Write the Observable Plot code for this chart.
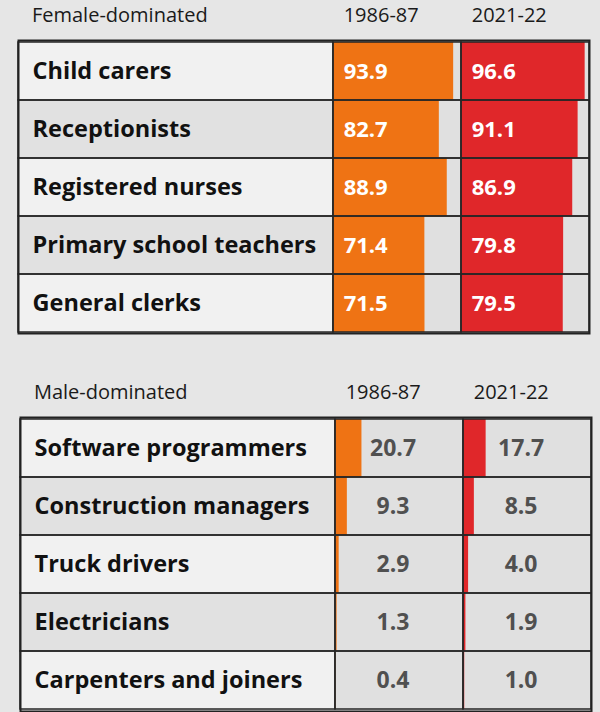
<!DOCTYPE html>
<html>
<head>
<meta charset="utf-8">
<script src="https://cdn.jsdelivr.net/npm/d3@7"></script>
<script src="https://cdn.jsdelivr.net/npm/@observablehq/plot@0.6"></script>
<style>
  html, body { margin: 0; padding: 0; background: #e6e6e6; }
  #chart { width: 600px; height: 712px; overflow: hidden; }
  #chart svg { display: block; }
</style>
</head>
<body>
<div id="chart"></div>
<script>
// ---- data ----
const years = ["1986-87", "2021-22"];
const femaleTitle = "Female-dominated";
const femaleJobs = ["Child carers", "Receptionists", "Registered nurses", "Primary school teachers", "General clerks"];
const female1986 = [93.9, 82.7, 88.9, 71.4, 71.5];
const female2021 = [96.6, 91.1, 86.9, 79.8, 79.5];
const maleTitle = "Male-dominated";
const maleJobs = ["Software programmers", "Construction managers", "Truck drivers", "Electricians", "Carpenters and joiners"];
const male1986 = [20.7, 9.3, 2.9, 1.3, 0.4];
const male2021 = [17.7, 8.5, 4.0, 1.9, 1.0];

// ---- layout (in x-scale units; each value column spans 0–100 %) ----
const LABEL_W = 246, COL_W = 100;
const FONT = "'Open Sans', 'DejaVu Sans', sans-serif";
const barColors = ["#ef7314", "#e0272a"];

function table(title, jobs, v1, v2, opts) {
  const labels = jobs.map((job, i) => ({job, i, x1: 0, x2: LABEL_W}));
  const cells = [];
  [v1, v2].forEach((vals, c) => {
    vals.forEach((v, i) => {
      const start = LABEL_W + c * COL_W;
      cells.push({job: jobs[i], col: c, value: v, start, end: start + COL_W, fill: barColors[c]});
    });
  });
  const headers = [{x: 10.5, text: title}].concat(years.map((y, c) => ({x: LABEL_W + c * COL_W + 8, text: y})));
  return Plot.plot({
    width: 600,
    height: opts.height,
    marginLeft: opts.left,
    marginRight: opts.right,
    marginTop: opts.marginTop,
    marginBottom: opts.marginBottom,
    x: {domain: [0, LABEL_W + 2 * COL_W], axis: null},
    y: {domain: jobs, axis: null, padding: 0},
    color: {type: "identity"},
    style: {background: "transparent", fontFamily: FONT, overflow: "visible"},
    marks: [
      Plot.barX(labels, {x1: "x1", x2: "x2", y: "job", fill: d => d.i % 2 ? "#e1e1e1" : "#f1f1f1"}),
      Plot.barX(cells, {x1: "start", x2: "end", y: "job", fill: "#e0e0e0"}),
      Plot.barX(cells, {x1: "start", x2: d => d.start + d.value, y: "job", fill: "fill"}),
      Plot.barX(labels, {x1: "x1", x2: "x2", y: "job", fill: "none", stroke: "#262626", strokeWidth: 1.5}),
      Plot.barX(cells, {x1: "start", x2: "end", y: "job", fill: "none", stroke: "#262626", strokeWidth: 1.5}),
      Plot.frame({stroke: "#222", strokeWidth: 2}),
      Plot.text(labels, {x: 11, y: "job", text: "job", textAnchor: "start", fontWeight: "bold", fontSize: 23.5, fill: "#111"}),
      opts.inside
        ? Plot.text(cells, {x: d => d.start + 8, y: "job", text: d => d.value.toFixed(1), textAnchor: "start", fontWeight: "bold", fontSize: 22, fill: "white"})
        : Plot.text(cells, {x: d => d.start + 45, y: "job", text: d => d.value.toFixed(1), textAnchor: "middle", fontWeight: "bold", fontSize: 23, fill: "#505050"}),
      Plot.text(headers, {x: "x", text: "text", frameAnchor: "top", lineAnchor: "middle", dy: opts.headerDy, textAnchor: "start", fontSize: 20, fill: "#1a1a1a"})
    ]
  });
}

const chart = document.getElementById("chart");
chart.append(table(femaleTitle, femaleJobs, female1986, female2021, {height: 345, left: 18, right: 11, marginTop: 40, marginBottom: 12, headerDy: -25, inside: true}));
chart.append(table(maleTitle, maleJobs, male1986, male2021, {height: 367, left: 20, right: 9, marginTop: 72, marginBottom: 1, headerDy: -25, inside: false}));
</script>
</body>
</html>
